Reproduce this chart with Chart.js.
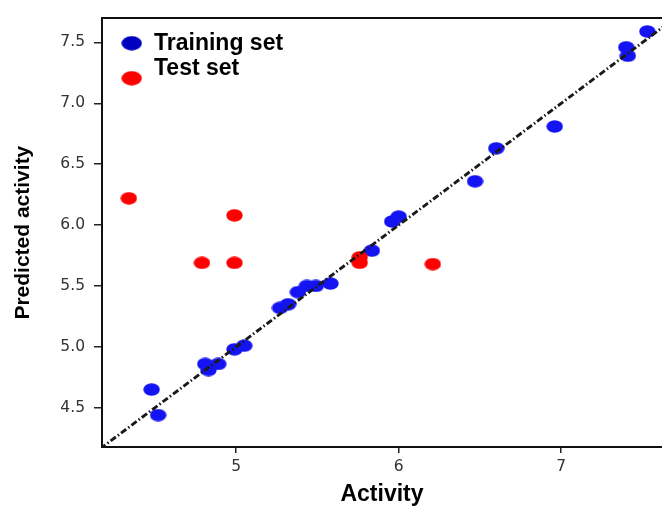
<!DOCTYPE html>
<html><head><meta charset="utf-8">
<script src="https://cdn.jsdelivr.net/npm/chart.js@4/dist/chart.umd.min.js"></script>
<style>html,body{margin:0;padding:0;background:#fff;overflow:hidden;}#wrap{width:662px;height:506px;}canvas{display:block;}</style>
</head><body><div id="wrap"><canvas id="c" width="662" height="506"></canvas></div>
<script>
// ---- data ----
const seriesLabels = ['Training set', 'Test set'];
const trainX = [4.48, 4.52, 4.81, 4.83, 4.89, 4.99, 5.05, 5.27, 5.32, 5.38, 5.435, 5.49, 5.58, 5.835, 5.96, 6.00, 6.47, 6.60, 6.96, 7.40, 7.41, 7.53];
const trainY = [4.65, 4.44, 4.86, 4.81, 4.86, 4.98, 5.01, 5.32, 5.35, 5.45, 5.50, 5.50, 5.52, 5.79, 6.03, 6.07, 6.36, 6.63, 6.81, 7.46, 7.39, 7.59];
const testX = [4.34, 4.79, 4.99, 4.99, 5.76, 5.76, 6.21];
const testY = [6.22, 5.69, 6.08, 5.69, 5.735, 5.69, 5.68];
const xTicks = [5, 6, 7];
const yTicks = [4.5, 5.0, 5.5, 6.0, 6.5, 7.0, 7.5];
const xRange = [4.175, 7.62];
const yRange = [4.178, 7.698];
const idealLine = [4.1, 7.8]; // y = x reference line ends
const xTitle = 'Activity';
const yTitle = 'Predicted activity';

function ellipseImg(w, h, color) {
  const c = document.createElement('canvas');
  c.width = w; c.height = h;
  const g = c.getContext('2d');
  g.fillStyle = color;
  g.beginPath();
  g.ellipse(w / 2, h / 2, w / 2 - 0.3, h / 2 - 0.3, 0, 0, Math.PI * 2);
  g.fill();
  return c;
}
const BLUE = '#1414f2', RED = '#ff0000';
const toPts = (xs, ys) => xs.map((x, i) => ({x, y: ys[i]}));

const refLegend = {
  id: 'refLegend',
  afterDraw(chart) {
    const {ctx, chartArea: a} = chart;
    const sets = chart.data.datasets.filter(d => d.legendMarker);
    ctx.save();
    sets.forEach((d, i) => {
      const m = d.legendMarker;
      ctx.drawImage(m, a.left + 29.7 - m.width / 2, a.top + 25 + i * 35 - m.height / 2);
      ctx.font = 'bold 23px "Liberation Sans", Arial, sans-serif';
      ctx.fillStyle = '#000';
      ctx.textBaseline = 'middle';
      ctx.textAlign = 'left';
      ctx.fillText(d.label, a.left + 52, a.top + 25.5 + i * 24.5);
    });
    ctx.restore();
  }
};

new Chart(document.getElementById('c'), {
  type: 'scatter',
  data: {
    datasets: [
      {
        type: 'line', label: 'y = x', data: toPts(idealLine, idealLine),
        borderColor: '#1a1a1a', borderWidth: 2.9, borderDash: [6.5, 2.5, 1.5, 2.5],
        pointRadius: 0, fill: false, order: 0
      },
      {
        label: seriesLabels[0], data: toPts(trainX, trainY),
        pointStyle: ellipseImg(17, 13, BLUE), legendMarker: ellipseImg(21, 15, '#0000c0'),
        backgroundColor: BLUE, order: 2
      },
      {
        label: seriesLabels[1], data: toPts(testX, testY),
        pointStyle: ellipseImg(17, 13, RED), legendMarker: ellipseImg(21, 15, RED),
        backgroundColor: RED, order: 1
      }
    ]
  },
  options: {
    responsive: false, animation: false,
    layout: {autoPadding: false, padding: {left: 0, right: 0, top: 16, bottom: 0}},
    plugins: {legend: {display: false}, tooltip: {enabled: false}},
    scales: {
      x: {
        type: 'linear', position: 'bottom', min: xRange[0], max: xRange[1],
        afterBuildTicks: s => { s.ticks = xTicks.map(v => ({value: v})); },
        afterFit: s => { s.height = 59; },
        grid: {drawOnChartArea: false, drawTicks: true, tickLength: 6, color: '#222', lineWidth: 1.5},
        border: {display: true, color: '#111', width: 2},
        ticks: {color: '#333', padding: 5, font: {family: 'DejaVu Sans', size: 15.5}, callback: v => String(v)},
        title: {display: true, text: xTitle, color: '#000', font: {family: '"Liberation Sans", Arial', size: 23, weight: 'bold', lineHeight: 1.0}, padding: {top: 0, bottom: 0}}
      },
      xTop: {
        type: 'linear', position: 'top', min: xRange[0], max: xRange[1],
        afterFit: s => { s.height = 0; },
        grid: {display: false, drawTicks: false},
        border: {display: true, color: '#111', width: 2},
        ticks: {display: false}
      },
      y: {
        type: 'linear', min: yRange[0], max: yRange[1],
        afterBuildTicks: s => { s.ticks = yTicks.map(v => ({value: v})); },
        afterFit: s => { s.width = 102; },
        grid: {drawOnChartArea: false, drawTicks: true, tickLength: 8, color: '#222', lineWidth: 1.5},
        border: {display: true, color: '#111', width: 2},
        ticks: {color: '#333', padding: 9, font: {family: 'DejaVu Sans', size: 15.5}, callback: v => v.toFixed(1)},
        title: {display: true, text: yTitle, color: '#000', font: {family: '"Liberation Sans", Arial', size: 21, weight: 'bold', lineHeight: 1.0}, padding: {top: 13, bottom: 0}}
      }
    }
  },
  plugins: [refLegend]
});
</script></body></html>
